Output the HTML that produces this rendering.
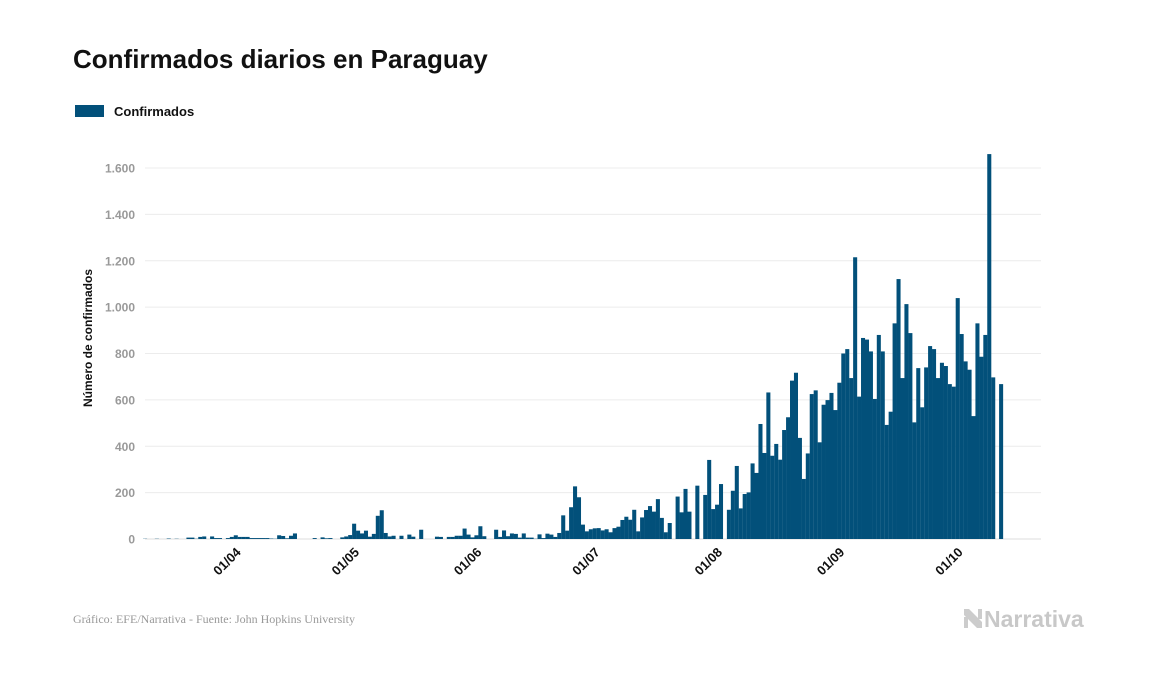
<!DOCTYPE html>
<html><head><meta charset="utf-8">
<style>
body{margin:0;background:#fff;font-family:"Liberation Sans",sans-serif;}
#wrap{position:relative;width:1157px;height:674px;overflow:hidden;}
</style></head>
<body>
<div id="wrap">
<svg id="chart" width="1157" height="674" xmlns="http://www.w3.org/2000/svg">
  <text x="73" y="68" font-size="26" font-weight="bold" fill="#111">Confirmados diarios en Paraguay</text>
  <g>
    <rect x="75" y="105" width="29" height="12" fill="#02507a"/>
    <text x="114" y="116" font-size="13" font-weight="bold" fill="#111">Confirmados</text>
  </g>
  <text transform="translate(92,338) rotate(-90)" text-anchor="middle" font-size="12" font-weight="bold" fill="#111">Número de confirmados</text>
  <g id="grid"></g>
  <g id="bars"></g>
  <g id="xticks"></g>
  <text x="73" y="623" font-family="Liberation Serif, serif" font-size="12" fill="#999">Gráfico: EFE/Narrativa - Fuente: John Hopkins University</text>
  <g>
    <polygon points="964,609 969,609 982,622 982,628 977,628 964,615" fill="#ccc"/>
    <rect x="964" y="617" width="4" height="11" fill="#ccc"/>
    <rect x="978" y="609" width="4" height="10" fill="#ccc"/>
    <text x="984" y="627" font-size="23" font-weight="bold" fill="#c8c8c8">Narrativa</text>
  </g>
</svg>
</div>
<script>
const startDate = [2020, 2, 8];
const values = [1,0,0,1,0,0,2,0,1,0,0,
6,6,1,9,11,0,11,4,4,0,4,9,16,9,9,9,4,4,4,4,4,2,1,16,13,3,
14,24,0,0,0,0,4,0,7,3,4,0,0,7,11,17,66,36,24,36,10,22,100,124,26,11,14,0,14,0,19,10,0,40,0,0,0,10,
9,0,9,9,14,14,45,19,7,16,55,12,0,0,40,9,37,12,24,22,6,24,6,6,1,20,4,23,19,9,26,102,36,137,227,180,
62,33,42,46,47,37,42,29,47,53,82,96,83,126,33,93,125,142,118,172,91,29,69,0,183,115,216,118,
0,230,0,190,341,129,148,237,0,126,208,315,132,194,201,326,285,496,371,632,359,410,342,470,525,683,717,436,259,369,625,641,417,579,599,630,556,674,
800,819,694,1215,614,867,860,809,604,880,809,492,549,930,1121,694,1013,888,503,737,568,740,832,819,694,760,746,668,657,1039,884,766,730,530,930,786,880,1660,697,0,668];
const yTicks = [0,200,400,600,800,1000,1200,1400,1600];
const yTickLabels = ["0","200","400","600","800","1.000","1.200","1.400","1.600"];
const xTickDates = [[2020,3,1],[2020,4,1],[2020,5,1],[2020,6,1],[2020,7,1],[2020,8,1],[2020,9,1]];
const xTickLabels = ["01/04","01/05","01/06","01/07","01/08","01/09","01/10"];

const NS = "http://www.w3.org/2000/svg";
const plotL = 145, plotR = 1041, y0px = 539, yTopPx = 168, yMax = 1600;
const step = 3.945, firstCenter = 145;
const dayMs = 86400000;
const start = Date.UTC(startDate[0], startDate[1], startDate[2]);
function yScale(v){ return y0px - v / yMax * (y0px - yTopPx); }
function xIndex(i){ return firstCenter + i * step; }
function xDate(d){ return xIndex((Date.UTC(d[0], d[1], d[2]) - start) / dayMs); }

const grid = document.getElementById('grid');
yTicks.forEach((t, k) => {
  const y = yScale(t);
  const ln = document.createElementNS(NS, 'line');
  ln.setAttribute('x1', plotL); ln.setAttribute('x2', plotR);
  ln.setAttribute('y1', y); ln.setAttribute('y2', y);
  ln.setAttribute('stroke', t === 0 ? '#dcdcdc' : '#ececec'); ln.setAttribute('stroke-width', '1');
  
  
  grid.appendChild(ln);
  const tx = document.createElementNS(NS, 'text');
  tx.setAttribute('x', 135); tx.setAttribute('y', y + 4.5);
  tx.setAttribute('text-anchor', 'end'); tx.setAttribute('font-size', '12');
  tx.setAttribute('font-weight', 'bold'); tx.setAttribute('fill', '#999');
  tx.textContent = yTickLabels[k];
  
  
  grid.appendChild(tx);
});

const bars = document.getElementById('bars');
values.forEach((v, i) => {
  if (v <= 0) return;
  const r = document.createElementNS(NS, 'rect');
  const y = yScale(v);
  r.setAttribute('x', xIndex(i) - step / 2);
  r.setAttribute('width', step + 0.1);
  r.setAttribute('y', y);
  r.setAttribute('height', y0px - y);
  r.setAttribute('fill', '#02507a');
  
  
  bars.appendChild(r);
});

const xt = document.getElementById('xticks');
xTickDates.forEach((d, k) => {
  const x = xDate(d);
  const tx = document.createElementNS(NS, 'text');
  tx.setAttribute('transform', 'translate(' + (x + 2) + ',553) rotate(-45)');
  tx.setAttribute('text-anchor', 'end'); tx.setAttribute('font-size', '13');
  tx.setAttribute('font-weight', 'bold'); tx.setAttribute('fill', '#111');
  tx.textContent = xTickLabels[k];
  
  
  xt.appendChild(tx);
});
</script>
</body></html>
